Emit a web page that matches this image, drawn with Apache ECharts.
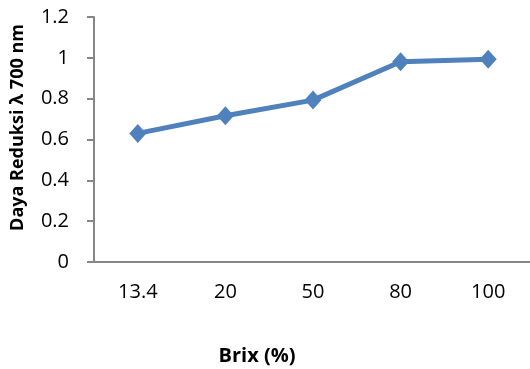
<!DOCTYPE html>
<html>
<head>
<meta charset="utf-8">
<style>
  html, body { margin: 0; padding: 0; background: #ffffff; }
  #chart { width: 530px; height: 369px; }
</style>
<script src="https://cdn.jsdelivr.net/npm/echarts@6/dist/echarts.min.js"></script>
</head>
<body>
<div id="chart"></div>
<script>
// Brix levels (%) on the category axis
const brixLevels = ['13.4', '20', '50', '80', '100'];
// Reducing power measured at 700 nm
const reducingPower = [0.63, 0.716, 0.793, 0.981, 0.993];
// Value axis range
const yMin = 0;
const yMax = 1.2;
const yStep = 0.2;

const FONT = '"Open Sans", "Liberation Sans", sans-serif';
const AXIS_GREY = '#868686';

const chart = echarts.init(document.getElementById('chart'), null, { renderer: 'canvas' });

chart.setOption({
  animation: false,
  backgroundColor: '#ffffff',
  grid: {
    left: 94, top: 17, width: 438, height: 245,
    containLabel: false,
    outerBoundsMode: 'none'
  },
  xAxis: {
    type: 'category',
    data: brixLevels,
    boundaryGap: true,
    axisLine: { show: true, lineStyle: { color: AXIS_GREY, width: 2 } },
    axisTick: { show: false },
    axisLabel: { color: '#000', fontFamily: FONT, fontSize: 20, margin: 20 },
    name: 'Brix (%)',
    nameLocation: 'middle',
    nameGap: 84,
    nameTextStyle: { color: '#000', fontFamily: FONT, fontSize: 20, fontWeight: 'bold', padding: [0, 112, 0, 0] }
  },
  yAxis: {
    type: 'value',
    min: yMin,
    max: yMax,
    interval: yStep,
    axisLine: { show: true, lineStyle: { color: AXIS_GREY, width: 2 } },
    axisTick: { show: true, inside: false, length: 7, lineStyle: { color: AXIS_GREY, width: 2 } },
    splitLine: { show: false },
    axisLabel: {
      color: '#000', fontFamily: FONT, fontSize: 20, margin: 25,
      formatter: v => String(Math.round(v * 10) / 10)
    },
    name: 'Daya Reduksi λ 700 nm',
    nameLocation: 'middle',
    nameGap: 67,
    nameRotate: 90,
    nameTextStyle: { color: '#000', fontFamily: FONT, fontSize: 18, fontWeight: 'bold', padding: [0, 0, 0, 24] }
  },
  series: [{
    type: 'line',
    data: reducingPower,
    symbol: 'diamond',
    symbolSize: [17, 19],
    showSymbol: true,
    lineStyle: { color: '#4F81BD', width: 5 },
    itemStyle: { color: '#4F81BD' }
  }]
});
</script>
</body>
</html>
